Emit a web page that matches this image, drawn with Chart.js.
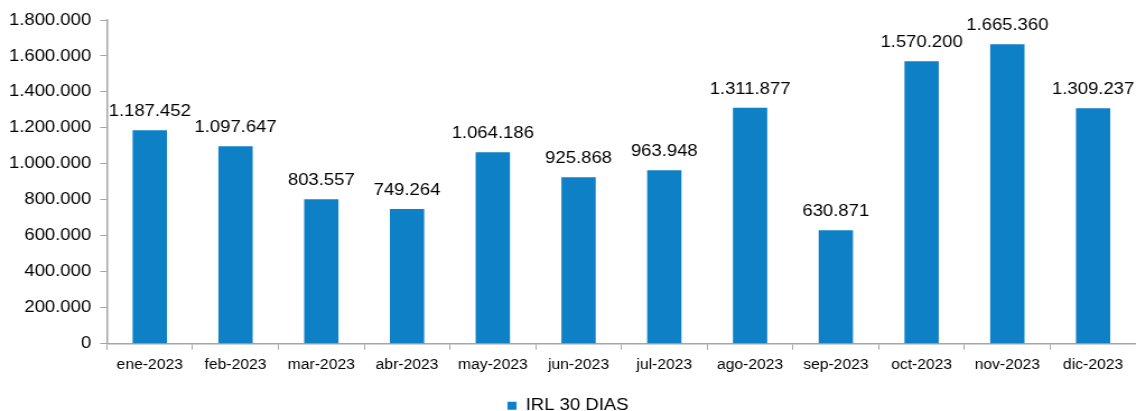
<!DOCTYPE html>
<html><head><meta charset="utf-8">
<script src="https://cdn.jsdelivr.net/npm/chart.js@4"></script>
<style>
html,body{margin:0;padding:0;background:#fff;overflow:hidden;}
#wrap{width:1014px;height:411px;transform:scaleX(1.1203);transform-origin:0 0;}
</style></head>
<body><div id="wrap"><canvas id="c" width="1014" height="411"></canvas></div>
<script>
const categories = ['ene-2023','feb-2023','mar-2023','abr-2023','may-2023','jun-2023','jul-2023','ago-2023','sep-2023','oct-2023','nov-2023','dic-2023'];
const irl30 = [1187452,1097647,803557,749264,1064186,925868,963948,1311877,630871,1570200,1665360,1309237];
const seriesName = 'IRL 30 DIAS';
const yTicks = [0,200000,400000,600000,800000,1000000,1200000,1400000,1600000,1800000];

function fmt(v){ return String(v).replace(/\B(?=(\d{3})+(?!\d))/g,'.'); }

const labelPlugin = {
  id:'vals',
  afterDatasetsDraw(chart){
    const ctx = chart.ctx;
    const meta = chart.getDatasetMeta(0);
    ctx.save();
    ctx.font = '16.5px "Liberation Sans", Arial, sans-serif';
    ctx.fillStyle = '#000';
    ctx.textAlign = 'center';
    ctx.textBaseline = 'alphabetic';
    meta.data.forEach((bar,i)=>{
      ctx.fillText(fmt(chart.data.datasets[0].data[i]), bar.x, bar.y - 14);
    });
    ctx.restore();
  }
};

new Chart(document.getElementById('c'), {
  type:'bar',
  data:{ labels:categories, datasets:[{ label:seriesName, data:irl30, backgroundColor:'#0E80C6', barPercentage:0.4, categoryPercentage:1 }]},
  options:{
    responsive:false, animation:false, devicePixelRatio:1,
    layout:{ padding:{ left:0, right:0, top:20, bottom:-13 } },
    plugins:{
      legend:{ position:'bottom', labels:{ boxWidth:8, boxHeight:8, color:'#000', padding:1, font:{ family:'"Liberation Sans", Arial, sans-serif', size:16.5 } } },
      tooltip:{ enabled:false }
    },
    scales:{
      x:{
        afterFit(s){ s.height += 16; },
        grid:{ offset:true, drawOnChartArea:false, drawTicks:true, tickLength:6, color:'#a6a6a6' },
        border:{ color:'#a6a6a6', width:1.5 },
        ticks:{ color:'#000', padding:7, maxRotation:0, font:{ family:'"Liberation Sans", Arial, sans-serif', size:14 } }
      },
      y:{
        min:0, max:1800000,
        afterBuildTicks(s){ s.ticks = yTicks.map(v=>({value:v})); },
        grid:{ drawOnChartArea:false, drawTicks:true, tickLength:6, color:'#a6a6a6' },
        border:{ color:'#a6a6a6', width:1.5 },
        ticks:{ color:'#000', padding:8, callback:(v)=>fmt(v), font:{ family:'"Liberation Sans", Arial, sans-serif', size:16.5 } }
      }
    }
  },
  plugins:[labelPlugin]
});
</script></body></html>
